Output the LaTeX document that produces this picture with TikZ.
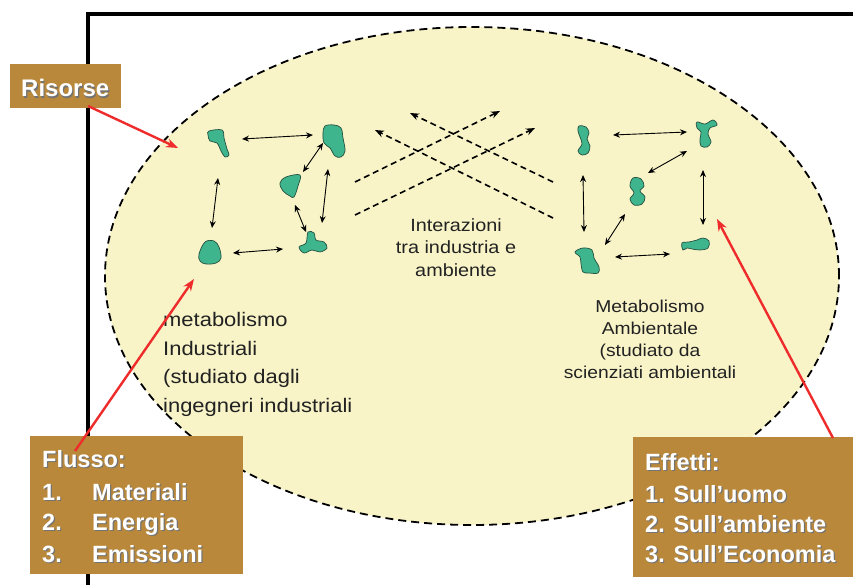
\documentclass[tikz,border=0pt]{standalone}
\usepackage{fontspec}
\setmainfont{Liberation Sans}
\newfontfamily\widefont[FakeStretch=1.12]{Liberation Sans}
\usetikzlibrary{arrows.meta}
\definecolor{cream}{HTML}{F8F4C8}
\definecolor{gold}{HTML}{B9883A}
\definecolor{blobfill}{HTML}{3FB58E}
\definecolor{blobline}{HTML}{24503F}
\definecolor{redline}{HTML}{EE2C2C}
\definecolor{txt}{HTML}{222222}
\newcommand\shd[1]{\leavevmode\rlap{\kern1.2pt\raisebox{-1.2pt}{\color{black!55}#1}}#1}
\tikzset{
  frameline/.style={line width=4pt, line cap=rect},
  blob/.style={fill=blobfill, draw=blobline, line width=0.7pt},
  link/.style={{Stealth[length=7pt,width=6pt]}-{Stealth[length=7pt,width=6pt]}, line width=0.9pt, draw=black},
  inter/.style={-{Stealth[length=9pt,width=7pt]}, line width=1.6pt, dash pattern=on 6pt off 4pt},
  redarrow/.style={-{Stealth[length=12pt,width=9pt]}, line width=2.4pt, draw=redline},
  goldbox/.style={fill=gold, draw=none},
  boxtxt/.style={text=white, font=\bfseries\fontsize{23.5}{28}\selectfont, inner sep=0pt, anchor=base west},
  bodytxt/.style={text=txt, inner sep=0pt}
}
\begin{document}
\begin{tikzpicture}[x=1pt,y=-1pt]
\useasboundingbox (0,0) rectangle (853,585);
\fill[white] (0,0) rectangle (853,585);
% frame
\draw[frameline] (88,588) -- (88,14) -- (856,14);
% ellipse
\draw[fill=cream, line width=1.8pt, dash pattern=on 8pt off 5pt] (472,276) ellipse [x radius=367pt, y radius=249pt];

% blobs left
\filldraw[blob, shift={(219,143)}] plot[smooth cycle, tension=0.6] coordinates {(-10,-12) (3,-13) (5,-5) (8,6) (10,12) (6,14) (2,8) (-2,0) (-9,-2) (-11,-8)};
\filldraw[blob, shift={(334,141)}] plot[smooth cycle, tension=0.6] coordinates {(-9,-15) (0,-16) (7,-13) (9,-3) (11,10) (7,16) (1,15) (-4,7) (-10,2) (-11,-8)};
\filldraw[blob, shift={(290,186)}] plot[smooth cycle, tension=0.6] coordinates {(-10,-3) (-4,-9) (10,-11) (8,0) (4,11) (0,10) (-7,5)};
\filldraw[blob, shift={(210,252)}] plot[smooth cycle, tension=0.6] coordinates {(-11,2) (-5,-10) (4,-11) (9,-5) (11,6) (6,11) (-4,12) (-10,9)};
\filldraw[blob, shift={(312,243)}] plot[smooth cycle, tension=0.6] coordinates {(-13,4) (-6,0) (-4,-11) (2,-10) (4,-3) (12,-1) (15,5) (8,9) (0,7) (-8,10)};
% blobs right
\filldraw[blob, shift={(584,140)}] plot[smooth cycle, tension=0.6] coordinates {(-5,-14) (2,-13) (5,-7) (3,-1) (6,6) (4,13) (-2,15) (-6,11) (-2,4) (-4,-3) (-6,-9)};
\filldraw[blob, shift={(706,134)}] plot[smooth cycle, tension=0.6] coordinates {(-9,-12) (-1,-10) (7,-14) (11,-9) (4,-6) (2,0) (5,8) (1,13) (-5,12) (-6,5) (-5,-2) (-9,-6)};
\filldraw[blob, shift={(637,191)}] plot[smooth cycle, tension=0.6] coordinates {(-4,-13) (4,-12) (7,-5) (3,0) (8,6) (5,13) (-3,14) (-7,8) (-3,2) (-7,-5)};
\filldraw[blob, shift={(587,261)}] plot[smooth cycle, tension=0.6] coordinates {(-12,-9) (-4,-13) (5,-11) (7,-3) (12,6) (11,12) (2,12) (-4,11) (-6,3) (-7,-4)};
\filldraw[blob, shift={(695,245)}] plot[smooth cycle, tension=0.6] coordinates {(-13,-2) (-6,-3) (2,-5) (8,-7) (14,-4) (13,3) (5,5) (-3,4) (-8,3) (-12,5)};

% link end coordinates (left group)
\coordinate (ab1) at (242,139); \coordinate (ab2) at (313,135);
\coordinate (ad1) at (218,178); \coordinate (ad2) at (212,228);
\coordinate (de1) at (233,253); \coordinate (de2) at (283,249);
\coordinate (bc1) at (323,143); \coordinate (bc2) at (303,172);
\coordinate (be1) at (328,169); \coordinate (be2) at (322,223);
\coordinate (ce1) at (295,205); \coordinate (ce2) at (306,232);
% right group
\coordinate (fg1) at (613,135); \coordinate (fg2) at (687,132);
\coordinate (gh1) at (687,151); \coordinate (gh2) at (648,173);
\coordinate (fi1) at (583,175); \coordinate (fi2) at (584,232);
\coordinate (gj1) at (703,170); \coordinate (gj2) at (703,225);
\coordinate (hi1) at (625,214); \coordinate (hi2) at (605,245);
\coordinate (ij1) at (615,257); \coordinate (ij2) at (670,254);
\foreach \p in {ab,ad,de,bc,be,ce,fg,gh,fi,gj,hi,ij}{\draw[link] (\p1) -- (\p2);}

% interaction dashed arrows
\coordinate (i1s) at (355,182); \coordinate (i1e) at (500,111);
\coordinate (i2s) at (355,215); \coordinate (i2e) at (535,128);
\coordinate (i3s) at (553,182); \coordinate (i3e) at (410,113);
\coordinate (i4s) at (553,218); \coordinate (i4e) at (375,130);
\draw[inter] (i1s) -- (i1e);
\draw[inter] (i2s) -- (i2e);
\draw[inter] (i3s) -- (i3e);
\draw[inter] (i4s) -- (i4e);

% body texts (base anchor = baseline of last line)
\node[bodytxt, align=center, font=\widefont\fontsize{17.7}{22}\selectfont, anchor=base] (inter) at (456,276) {Interazioni\\tra industria e\\ambiente};
\node[bodytxt, align=left, font=\widefont\fontsize{19.6}{28.5}\selectfont, anchor=base west] (metind) at (163,412) {metabolismo\\Industriali\\(studiato dagli\\ingegneri industriali};
\node[bodytxt, align=center, font=\widefont\fontsize{17.2}{21.7}\selectfont, anchor=base] (metamb) at (650,378) {Metabolismo\\Ambientale\\(studiato da\\scienziati ambientali};

% boxes
\node[goldbox, minimum width=111pt, minimum height=44pt, anchor=north west, inner sep=0pt] (risorse) at (10,64) {};
\node[boxtxt, font=\bfseries\fontsize{24}{28}\selectfont] (risorset) at (21,97) {\shd{Risorse}};

\node[goldbox, minimum width=213pt, minimum height=138pt, anchor=north west, inner sep=0pt] (flusso) at (30,436) {};
\node[boxtxt] (fl0) at (42,467) {\shd{Flusso:}};
\node[boxtxt] (fl1) at (42,500) {\makebox[50pt][l]{\shd{1.}}\shd{Materiali}};
\node[boxtxt] (fl2) at (42,530) {\makebox[50pt][l]{\shd{2.}}\shd{Energia}};
\node[boxtxt] (fl3) at (42,562) {\makebox[50pt][l]{\shd{3.}}\shd{Emissioni}};

\node[goldbox, minimum width=225pt, minimum height=140pt, anchor=north west, inner sep=0pt] (effetti) at (633,437) {};
\node[boxtxt] (ef0) at (645,470) {\shd{Effetti:}};
\node[boxtxt] (ef1) at (645,502) {\shd{1. Sull’uomo}};
\node[boxtxt] (ef2) at (645,532) {\shd{2. Sull’ambiente}};
\node[boxtxt] (ef3) at (645,562) {\shd{3. Sull’Economia}};

% red arrows
\coordinate (r1s) at (88,106); \coordinate (r1e) at (178,148);
\coordinate (r2s) at (75,451); \coordinate (r2e) at (194,279);
\coordinate (r3s) at (833,438); \coordinate (r3e) at (717,219);
\draw[redarrow] (r1s) -- (r1e);
\draw[redarrow] (r2s) -- (r2e);
\draw[redarrow] (r3s) -- (r3e);
\end{tikzpicture}
\end{document}
